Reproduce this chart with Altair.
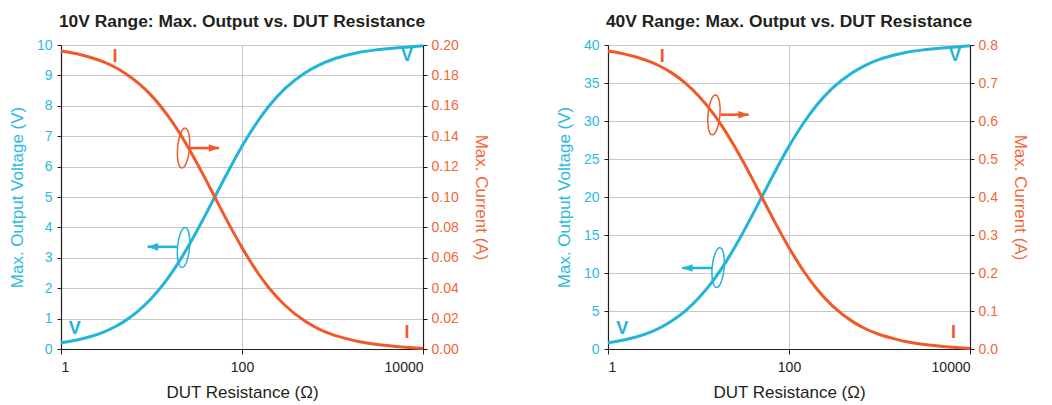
import altair as alt
import pandas as pd

# ---------------- data ----------------
R = [1, 1.5, 2, 3, 4, 5, 7, 10, 15, 20, 30, 40, 50, 70, 100, 150, 200, 300,
     500, 700, 1000, 1500, 2000, 3000, 5000, 7000, 10000]

V10 = [0.205, 0.296, 0.385, 0.566, 0.741, 0.909, 1.228, 1.667, 2.308, 2.857,
       3.750, 4.444, 5.000, 5.833, 6.667, 7.500, 8.000, 8.571, 9.091, 9.333,
       9.524, 9.677, 9.760, 9.840, 9.905, 9.935, 9.975]
I10 = [0.1961, 0.1942, 0.1923, 0.1887, 0.1852, 0.1818, 0.1754, 0.1667, 0.1538,
       0.1429, 0.1250, 0.1111, 0.1000, 0.0833, 0.0667, 0.0500, 0.0400, 0.0286,
       0.0182, 0.0133, 0.0095, 0.0065, 0.0048, 0.0031, 0.0017, 0.0010, 0.0004]

V40 = [0.82, 1.18, 1.54, 2.26, 2.96, 3.64, 4.91, 6.67, 9.23, 11.43, 15.00,
       17.78, 20.00, 23.33, 26.67, 30.00, 32.00, 34.29, 36.36, 37.33, 38.10,
       38.71, 39.04, 39.36, 39.62, 39.74, 39.90]
I40 = [0.7843, 0.7767, 0.7692, 0.7547, 0.7407, 0.7273, 0.7018, 0.6667, 0.6154,
       0.5714, 0.5000, 0.4444, 0.4000, 0.3333, 0.2667, 0.2000, 0.1600, 0.1143,
       0.0727, 0.0533, 0.0381, 0.0260, 0.0192, 0.0124, 0.0068, 0.0040, 0.0016]

# curve labels: text, R, V (in left-axis units), colour key
LBL_TEXT = ["I", "V", "V", "I"]
LBL_COLOR = ["orange", "cyan", "cyan", "orange"]
LBL10_R = [3.95, 6660, 1.42, 6660]
LBL10_V = [9.62, 9.63, 0.66, 0.53]
LBL40_R = [3.97, 6830, 1.44, 6560]
LBL40_V = [38.46, 38.5, 2.63, 2.14]

# axis-pointer annotations: ellipse centre, arrow start/end (R) and level (V)
ANN_COLOR = ["orange", "cyan"]
ANN10_ER = [22.6, 22.6]
ANN10_EV = [6.61, 3.34]
ANN10_R0 = [26.5, 19.3]
ANN10_R1 = [56.0, 9.06]
ANN10_AV = [6.61, 3.36]
ANN40_ER = [14.8, 16.5]
ANN40_EV = [30.8, 10.7]
ANN40_R0 = [17.5, 14.1]
ANN40_R1 = [35.9, 6.6]
ANN40_AV = [30.83, 10.66]

X_TICKS = [1, 100, 10000]

# ---------------- styles ----------------
CYAN = "#22b4d9"
ORANGE = "#f05a28"
CYAN_LBL = "#2dbade"
ORANGE_LBL = "#f2663a"
DARK = "#231f20"
FONT = "Liberation Sans"
COLS = {"cyan": CYAN, "orange": ORANGE}

ELLIPSE = "M0,-1 A0.3,1 0 1,1 0,1 A0.3,1 0 1,1 0,-1 Z"
HEAD_R = "M0,0 L-1.7,-0.62 L-1.7,0.62 Z"
HEAD_L = "M0,0 L1.7,-0.62 L1.7,0.62 Z"


def panel(title, V, I, vmax, vstep, imax, istep, ifmt,
          lr, lv, er, ev, r0, r1, av):
    df = pd.DataFrame({"R": R, "V": V, "I": I})
    lab = pd.DataFrame({"t": LBL_TEXT, "R": lr, "V": lv,
                        "c": [COLS[c] for c in LBL_COLOR]})
    ell = pd.DataFrame({"R": er, "V": ev, "c": [COLS[c] for c in ANN_COLOR]})
    arr = pd.DataFrame({"R": r0, "R1": r1, "V": av,
                        "c": [COLS[c] for c in ANN_COLOR],
                        "s": [HEAD_R if b > a else HEAD_L for a, b in zip(r0, r1)]})

    xscale = alt.Scale(type="log", domain=[1, 10000], nice=False)
    x = alt.X("R:Q", scale=xscale,
              axis=alt.Axis(values=X_TICKS, format="d", title="DUT Resistance (Ω)",
                            grid=True, labelColor=DARK, titleColor=DARK,
                            tickSize=5, labelPadding=6, titlePadding=10))
    vticks = list(range(0, vmax + 1, vstep))
    yV = alt.Y("V:Q", scale=alt.Scale(domain=[0, vmax], nice=False),
               axis=alt.Axis(values=vticks, title="Max. Output Voltage (V)",
                             labelColor=CYAN_LBL, titleColor=CYAN_LBL, grid=True,
                             tickSize=4, labelPadding=5, titlePadding=10))
    n = int(round(imax / istep))
    iticks = [round(k * istep, 4) for k in range(n + 1)]
    yI = alt.Y("I:Q", scale=alt.Scale(domain=[0, imax], nice=False),
               axis=alt.Axis(values=iticks, format=ifmt, orient="right",
                             title="Max. Current (A)", labelColor=ORANGE_LBL,
                             titleColor=ORANGE_LBL, grid=False,
                             tickSize=4, labelPadding=4, titlePadding=13))

    vline = alt.Chart(df).mark_line(color=CYAN, strokeWidth=3,
                                    interpolate="monotone").encode(x=x, y=yV)
    texts = alt.Chart(lab).mark_text(fontSize=18, fontWeight="bold", font=FONT,
                                     baseline="middle", align="center").encode(
        x=x, y=yV, text="t:N", color=alt.Color("c:N", scale=None))
    ellipses = alt.Chart(ell).mark_point(shape=ELLIPSE, size=1600, filled=False,
                                         strokeWidth=1.5, opacity=1, angle=5).encode(
        x=x, y=yV, color=alt.Color("c:N", scale=None))
    shafts = alt.Chart(arr).mark_rule(strokeWidth=2.6).encode(
        x=x, x2="R1:Q", y=yV, color=alt.Color("c:N", scale=None))
    heads = alt.Chart(arr).mark_point(filled=True, size=150, opacity=1).encode(
        x=alt.X("R1:Q", scale=xscale),
        y=yV, shape=alt.Shape("s:N", scale=None),
        color=alt.Color("c:N", scale=None))

    left = alt.layer(vline, ellipses, shafts, heads, texts)
    iline = alt.Chart(df).mark_line(color=ORANGE, strokeWidth=3,
                                    interpolate="monotone").encode(x=x, y=yI)

    return alt.layer(left, iline).resolve_scale(y="independent").properties(
        width=362, height=304,
        title=alt.TitleParams(title, fontSize=17.4, fontWeight="bold", color=DARK,
                              anchor="middle", offset=8, font=FONT))


p1 = panel("10V Range: Max. Output vs. DUT Resistance", V10, I10, 10, 1, 0.2, 0.02, ".2f",
           LBL10_R, LBL10_V, ANN10_ER, ANN10_EV, ANN10_R0, ANN10_R1, ANN10_AV)
p2 = panel("40V Range: Max. Output vs. DUT Resistance", V40, I40, 40, 5, 0.8, 0.1, ".1f",
           LBL40_R, LBL40_V, ANN40_ER, ANN40_EV, ANN40_R0, ANN40_R1, ANN40_AV)

chart = alt.hconcat(p1, p2, spacing=65).configure(
    background="white", padding={"left": 0, "top": 4, "right": 5, "bottom": 5}
).configure_view(strokeWidth=0).configure_axis(
    labelFont=FONT, titleFont=FONT, labelFontSize=14, titleFontSize=17,
    titleFontWeight="normal", domainColor=DARK, tickColor=DARK,
    gridColor="#c8c8c8", gridWidth=1, domainWidth=1.2
)

chart.save("out.html", embed_options={"renderer": "svg", "actions": False})
